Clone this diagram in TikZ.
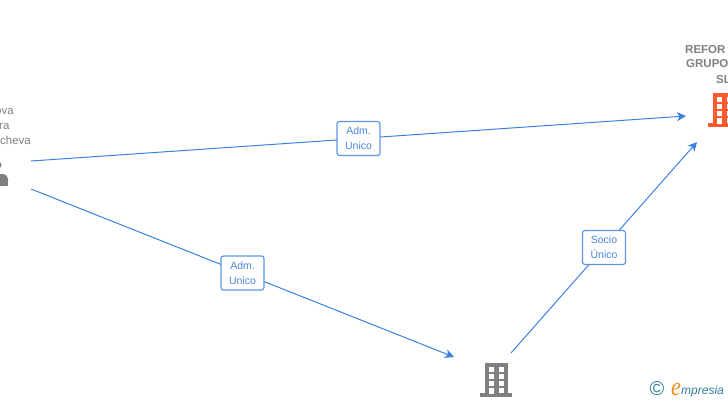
\documentclass[tikz,border=0pt]{standalone}
\usepackage{fontspec}
\setmainfont{Liberation Sans}
\newfontfamily\logofont{Liberation Serif}
\usetikzlibrary{arrows.meta}
\definecolor{ink}{HTML}{808080}
\definecolor{figblue}{HTML}{3B82E0}
\definecolor{boxblue}{HTML}{5C96E6}
\definecolor{txtblue}{HTML}{4A86D8}
\definecolor{figorange}{HTML}{FF5A2B}
\definecolor{logoteal}{HTML}{2F7F9E}
\definecolor{logoorange}{HTML}{F28A1E}
\newcommand{\namefontsize}{\fontsize{11.5}{14}\selectfont}
\newcommand{\boxfontsize}{\fontsize{10.5}{15}\selectfont}
\tikzset{
  every picture/.style = {line join=round},
  link/.style          = {line width=1pt, figblue, -{Stealth[length=9pt, width=9pt, inset=2.5pt]}},
  role/.style          = {draw=boxblue, line width=1.2pt, fill=white, rounded corners=2.5pt,
                          minimum width=43pt, minimum height=34pt, inner sep=0pt,
                          align=center, text=txtblue, font=\boxfontsize},
  person/.style        = {anchor=base west, inner sep=0pt, text=ink, font=\namefontsize},
  firm/.style          = {anchor=base west, inner sep=0pt, text=ink, font=\namefontsize\bfseries},
  pics/tower/.style    = {code={
    \fill[#1] (5,0) rectangle (28,30);
    \fill[#1] (0,30) rectangle (32,34);
    \foreach \wy in {4,11,18} {
      \fill[white] (9,\wy) rectangle (14,{\wy+5});
      \fill[white] (19,\wy) rectangle (24,{\wy+5});
    }
    \fill[white] (9,25) rectangle (14,31);
    \fill[white] (19,25) rectangle (24,30);
  }},
}
\begin{document}
\begin{tikzpicture}[x=1pt, y=-1pt]
  \useasboundingbox (0,0) rectangle (728,400);
  \clip (0,0) rectangle (728,400);

  % ---------- ends of the links ----------
  \coordinate (ownerA) at (31,161);
  \coordinate (ownerB) at (31,189);
  \coordinate (holdIn) at (686,116);
  \coordinate (holdSub) at (697,142);
  \coordinate (subIn) at (454,357);
  \coordinate (subOut) at (511,353);

  % ---------- links, with a role box on each ----------
  \draw[link] (ownerA) -- (holdIn) node[role, pos=0.5] (roleA) {Adm.\\Unico};
  \draw[link] (ownerB) -- (subIn) node[role, pos=0.5] (roleB) {Adm.\\Unico};
  \draw[link] (subOut) -- (holdSub) node[role, pos=0.5] (roleC) {Socio\\Único};

  % ---------- left: person, cut by the page edge ----------
  \node[person] (nameA) at (0,114) {\hspace*{-5pt}ova};
  \node[person] (nameB) at (0,129) {\hspace*{-1pt}ra};
  \node[person] (nameC) at (0,144) {cheva};
  \fill[ink] (-2,165) circle (3.5);
  \fill[ink, rounded corners=5pt] (-9,186) -- (-9,174) -- (8,174) -- (8,186) -- cycle;
  \fill[ink] (-9,181) rectangle (8,186);

  % ---------- right: holding, cut by the page edge ----------
  \node[firm] (nameD) at (685,53) {REFOR};
  \node[firm] (nameE) at (686,67) {GRUPO};
  \node[firm] (nameF) at (716,83) {SL};
  \pic at (708,93) {tower=figorange};

  % ---------- bottom: subsidiary ----------
  \pic at (480,363) {tower=ink};

  % ---------- logo ----------
  \node[inner sep=0pt, text=logoteal, font=\fontsize{20}{20}\selectfont] (copyMark) at (657,389) {©};
  \node[anchor=base west, inner sep=0pt, xscale=0.85, text=logoorange, font=\fontsize{26}{26}\selectfont\logofont\itshape] (logoE) at (671,395) {e};
  \node[anchor=base west, inner sep=0pt, text=logoteal, font=\fontsize{12}{14}\selectfont\itshape] (logoWord) at (681,394) {mpresia};
\end{tikzpicture}
\end{document}
